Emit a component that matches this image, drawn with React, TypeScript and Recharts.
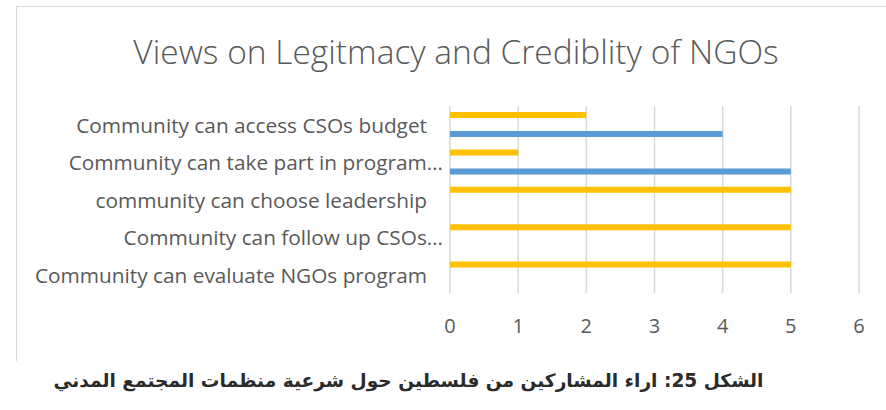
import { BarChart, Bar, XAxis, YAxis, CartesianGrid } from "recharts";

const categories = [
  "Community can access CSOs budget",
  "Community can take part in program…",
  "community can choose leadership",
  "Community can follow up CSOs…",
  "Community can evaluate NGOs program",
];
const blueValues = [4, 5, 0, 0, 0];
const yellowValues = [2, 1, 5, 5, 5];
const xTicks = [0, 1, 2, 3, 4, 5, 6];

const title = "Views on Legitmacy and Crediblity of NGOs";
const caption = "الشكل 25: اراء المشاركين من فلسطين حول شرعية منظمات المجتمع المدني";

const data = categories.map((name, i) => ({
  name,
  blue: blueValues[i],
  yellow: yellowValues[i],
}));

const FONT = "'Open Sans', sans-serif";
const GREY = "#595959";

// Excel pushes the truncated labels a bit further right than the others
function CategoryTick(props: any) {
  const { x, y, payload } = props;
  const text: string = payload.value;
  const shift = text.endsWith("…") ? 7 : 23;
  return (
    <text
      x={x - shift}
      y={y + 1}
      dy="0.35em"
      textAnchor="end"
      fill={GREY}
      fontSize={20.8}
      fontFamily={FONT}
    >
      {text}
    </text>
  );
}

export default function App() {
  return (
    <div
      style={{
        position: "absolute",
        left: 0,
        top: 0,
        width: 886,
        height: 410,
        background: "#fff",
        overflow: "hidden",
      }}
    >
      <div
        style={{
          position: "absolute",
          left: 16,
          top: 6,
          width: 900,
          height: 354,
          borderLeft: "1.5px solid #d9d9d9",
          borderTop: "1.5px solid #d9d9d9",
        }}
      />
      <div
        style={{
          position: "absolute",
          left: 16,
          width: 880,
          top: 28,
          textAlign: "center",
          fontFamily: FONT,
          fontWeight: 300,
          fontSize: 33.5,
          lineHeight: "46px",
          color: GREY,
          whiteSpace: "nowrap",
        }}
      >
        {title}
      </div>

      <div style={{ position: "absolute", left: 0, top: 0 }}>
        <BarChart
          width={886}
          height={360}
          data={data}
          layout="vertical"
          margin={{ top: 106, right: 27, left: 0, bottom: 0 }}
          barSize={6}
          barGap={13}
        >
          <CartesianGrid
            horizontal={false}
            stroke="#d9d9d9"
            strokeWidth={1.5}
          />
          <XAxis
            type="number"
            domain={[0, 6]}
            ticks={xTicks}
            axisLine={false}
            tickLine={false}
            tickSize={0}
            tickMargin={26}
            height={67}
            tick={{ fill: GREY, fontSize: 20, fontFamily: FONT }}
          />
          <YAxis
            type="category"
            dataKey="name"
            width={450}
            axisLine={false}
            tickLine={false}
            tickSize={0}
            tickMargin={0}
            interval={0}
            tick={<CategoryTick />}
          />
          <Bar dataKey="yellow" fill="#FFC000" isAnimationActive={false} />
          <Bar dataKey="blue" fill="#5B9BD5" isAnimationActive={false} />
        </BarChart>
      </div>

      <div
        style={{
          position: "absolute",
          left: 0,
          width: 817,
          top: 370,
          textAlign: "center",
          direction: "rtl",
          fontFamily: "'DejaVu Sans', sans-serif",
          fontWeight: 700,
          fontSize: 18.6,
          color: "#2b2b2b",
          whiteSpace: "nowrap",
        }}
      >
        {caption}
      </div>
    </div>
  );
}
